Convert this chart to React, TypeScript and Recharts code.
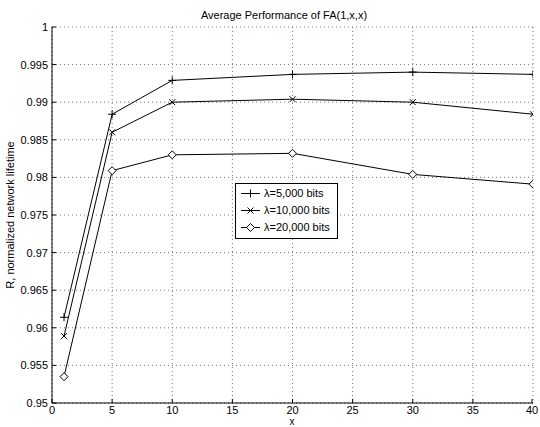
import { LineChart, Line, XAxis, YAxis, CartesianGrid } from "recharts";

const xValues = [1, 5, 10, 20, 30, 40];
const bits5000 = [0.9614, 0.9884, 0.9929, 0.9937, 0.994, 0.9937];
const bits10000 = [0.9589, 0.986, 0.99, 0.9904, 0.99, 0.9884];
const bits20000 = [0.9535, 0.9809, 0.983, 0.9832, 0.9804, 0.9791];
const seriesNames = ["λ=5,000 bits", "λ=10,000 bits", "λ=20,000 bits"];
const xTicks = [0, 5, 10, 15, 20, 25, 30, 35, 40];
const yTicks = [0.95, 0.955, 0.96, 0.965, 0.97, 0.975, 0.98, 0.985, 0.99, 0.995, 1];

const data = xValues.map((x, i) => ({
  x,
  s1: bits5000[i],
  s2: bits10000[i],
  s3: bits20000[i],
}));

const FONT = "'Liberation Sans', Arial, Helvetica, sans-serif";

const Marker = ({ kind, cx, cy }: { kind: string; cx: number; cy: number }) => {
  if (cx == null || cy == null) return null;
  if (kind === "plus") {
    return (
      <g stroke="#000" strokeWidth={1}>
        <line x1={cx - 4} y1={cy} x2={cx + 4} y2={cy} />
        <line x1={cx} y1={cy - 4} x2={cx} y2={cy + 4} />
      </g>
    );
  }
  if (kind === "cross") {
    return (
      <g stroke="#000" strokeWidth={1}>
        <line x1={cx - 3} y1={cy - 3} x2={cx + 3} y2={cy + 3} />
        <line x1={cx - 3} y1={cy + 3} x2={cx + 3} y2={cy - 3} />
      </g>
    );
  }
  return (
    <path
      d={`M${cx},${cy - 4} L${cx + 4},${cy} L${cx},${cy + 4} L${cx - 4},${cy} Z`}
      fill="#fff"
      stroke="#000"
      strokeWidth={1}
    />
  );
};

const dotFor = (kind: string) => (props: any) => (
  <Marker key={`${kind}-${props.index}`} kind={kind} cx={props.cx} cy={props.cy} />
);

const fmtY = (v: number) => String(Number(v.toFixed(3)));

const XTick = (props: any) => {
  const { x, y, payload } = props;
  return (
    <g>
      <line x1={x} y1={y} x2={x} y2={y - 4} stroke="#000" />
      <text x={x} y={y + 11} textAnchor="middle" fontSize={11} fontFamily={FONT} fill="#000">
        {payload.value}
      </text>
    </g>
  );
};

const YTick = (props: any) => {
  const { x, y, payload } = props;
  return (
    <g>
      <line x1={x} y1={y} x2={x + 4} y2={y} stroke="#000" />
      <text x={x - 4} y={y + 4} textAnchor="end" fontSize={11} fontFamily={FONT} fill="#000">
        {fmtY(payload.value)}
      </text>
    </g>
  );
};

const kinds = ["plus", "cross", "diamond"];

const LegendBox = () => (
  <div
    style={{
      position: "absolute",
      left: 235,
      top: 183,
      border: "1px solid #000",
      background: "#fff",
      width: 101,
      padding: "1px 0 2px 0",
      fontFamily: FONT,
      fontSize: 11,
      lineHeight: "17px",
    }}
  >
    {seriesNames.map((name, i) => (
      <div key={name} style={{ display: "flex", alignItems: "center", whiteSpace: "nowrap" }}>
        <svg width={28} height={17} style={{ flex: "none" }}>
          <line x1={5} y1={8.5} x2={24} y2={8.5} stroke="#000" />
          <Marker kind={kinds[i]} cx={14.5} cy={8.5} />
        </svg>
        <span>{name}</span>
      </div>
    ))}
  </div>
);

export default function App() {
  return (
    <div style={{ position: "absolute", left: 0, top: 0, width: 540, height: 427, background: "#fff" }}>
      <LineChart
        width={540}
        height={427}
        data={data}
        margin={{ top: 27, right: 7, bottom: 0, left: 0 }}
      >
        <text x={284} y={19} textAnchor="middle" fontSize={11} fontFamily={FONT} fill="#000">
          Average Performance of FA(1,x,x)
        </text>
        <text
          x={14}
          y={215}
          textAnchor="middle"
          fontSize={11}
          fontFamily={FONT}
          fill="#000"
          transform="rotate(-90 14 215)"
        >
          R, normalized network lifetime
        </text>
        <text x={292} y={425} textAnchor="middle" fontSize={10} fontFamily={FONT} fill="#000">
          x
        </text>
        <CartesianGrid
          stroke="#777"
          strokeDasharray="1 3"
          horizontalValues={yTicks}
          verticalValues={xTicks}
        />
        <XAxis
          dataKey="x"
          type="number"
          domain={[0, 40]}
          ticks={xTicks}
          height={24}
          tickSize={0}
          tickMargin={0}
          tick={<XTick />}
          axisLine={{ stroke: "#000" }}
          allowDataOverflow
        />
        <YAxis
          type="number"
          domain={[0.95, 1]}
          ticks={yTicks}
          width={52}
          tickSize={0}
          tickMargin={0}
          tick={<YTick />}
          axisLine={{ stroke: "#000" }}
          allowDataOverflow
        />
        <Line dataKey="s1" name={seriesNames[0]} stroke="#000" strokeWidth={1} dot={dotFor("plus")} isAnimationActive={false} />
        <Line dataKey="s2" name={seriesNames[1]} stroke="#000" strokeWidth={1} dot={dotFor("cross")} isAnimationActive={false} />
        <Line dataKey="s3" name={seriesNames[2]} stroke="#000" strokeWidth={1} dot={dotFor("diamond")} isAnimationActive={false} />
      </LineChart>
      <LegendBox />
    </div>
  );
}
